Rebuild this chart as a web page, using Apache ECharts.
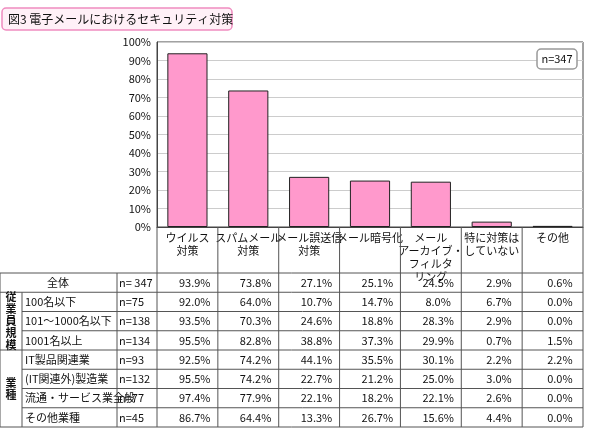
<!DOCTYPE html>
<html><head><meta charset="utf-8">
<script src="https://cdn.jsdelivr.net/npm/echarts@6/dist/echarts.min.js"></script>
<style>html,body{margin:0;padding:0;background:#fff}#c{width:590px;height:438px}</style>
</head><body><div id="c"></div>
<script>
const categories = ['ウイルス\n対策','スパムメール\n対策','メール誤送信\n対策','メール暗号化','メール\nアーカイブ・\nフィルタ\nリング','特に対策は\nしていない','その他'];
const overall = [93.9,73.8,27.1,25.1,24.5,2.9,0.6];
const yTicks = [0,10,20,30,40,50,60,70,80,90,100];
const rowLabels = ['全体','100名以下','101～1000名以下','1001名以上','IT製品関連業','(IT関連外)製造業','流通・サービス業全般','その他業種'];
const rowN = ['n= 347','n=75','n=138','n=134','n=93','n=132','n=77','n=45'];
const row0 = [93.9,73.8,27.1,25.1,24.5,2.9,0.6];
const row1 = [92.0,64.0,10.7,14.7,8.0,6.7,0.0];
const row2 = [93.5,70.3,24.6,18.8,28.3,2.9,0.0];
const row3 = [95.5,82.8,38.8,37.3,29.9,0.7,1.5];
const row4 = [92.5,74.2,44.1,35.5,30.1,2.2,2.2];
const row5 = [95.5,74.2,22.7,21.2,25.0,3.0,0.0];
const row6 = [97.4,77.9,22.1,18.2,22.1,2.6,0.0];
const row7 = [86.7,64.4,13.3,26.7,15.6,4.4,0.0];
const groups = [{name:'従\n業\n員\n規\n模', from:1, to:3},{name:'業\n種', from:4, to:7}];

const rows = [row0,row1,row2,row3,row4,row5,row6,row7];
const F = '"Noto Sans CJK JP", sans-serif';
const L = 157, R = 583, T = 42, B = 227, HB = 273, RH = 19.25;
const CW = (R - L) / categories.length;
const g = [];
const line = (x1,y1,x2,y2,c) => g.push({type:'line',shape:{x1,y1,x2,y2},style:{stroke:c||'#555',lineWidth:1},z:10});
const txt = (x,y,t,align) => g.push({type:'text',x,y,style:{text:t,font:'11px '+F,fill:'#111',textAlign:align||'center',textVerticalAlign:'middle'},z:11});
// horizontal lines
line(0,HB,R,HB);
for (let i=1;i<=rows.length;i++){
  const y = HB + i*RH;
  const fromGroup = groups.some(gr => i>gr.from && i<=gr.to);
  line(fromGroup?22:0, y, R, y);
}
// vertical lines
const tb = HB + rows.length*RH;
line(0,HB,0,tb); line(22,HB+RH,22,tb); line(117,HB,117,tb);
for (let k=0;k<=categories.length;k++) line(L+k*CW,B,L+k*CW,tb);
rows.forEach((r,i)=>{
  const y = HB + (i+0.5)*RH;
  if (i===0) txt(58,y,rowLabels[i]); else txt(25,y,rowLabels[i],'left');
  txt(119,y,rowN[i],'left');
  r.forEach((v,k)=>txt(L+(k+0.62)*CW,y,v.toFixed(1)+'%'));
});
groups.forEach(gr=>{
  g.push({type:'text',x:11,y:HB+((gr.from+gr.to+1)/2)*RH,style:{text:gr.name,font:'bold 11px '+F,fill:'#111',textAlign:'center',textVerticalAlign:'middle',lineHeight:12},z:11});
});
// title box
g.push({type:'rect',shape:{x:2,y:8,width:230,height:22,r:4},style:{fill:'#fff0f7',stroke:'#f08cc0',lineWidth:1.5},z:5});
g.push({type:'text',x:8,y:19,style:{text:'図3 電子メールにおけるセキュリティ対策',font:'12px '+F,fill:'#111',textVerticalAlign:'middle'},z:6});
// n box
g.push({type:'rect',shape:{x:537,y:49,width:40,height:20,r:4},style:{fill:'#fff',stroke:'#999',lineWidth:1.5},z:5});
g.push({type:'text',x:557,y:59,style:{text:'n=347',font:'11px '+F,fill:'#111',textAlign:'center',textVerticalAlign:'middle'},z:6});

const chart = echarts.init(document.getElementById('c'));
chart.setOption({
  animation:false,
  grid:{left:L,right:590-R,top:T,bottom:438-B,show:true,borderColor:'#444',borderWidth:1},
  xAxis:{type:'category',data:categories,axisTick:{show:false},axisLine:{lineStyle:{color:'#444'}},
    axisLabel:{interval:0,color:'#111',fontFamily:F,fontSize:11,lineHeight:13,verticalAlign:'top',margin:4}},
  yAxis:{type:'value',min:0,max:100,interval:10,axisLine:{show:true,lineStyle:{color:'#444'}},
    axisLabel:{formatter:v=>yTicks.includes(v)?v+'%':'',color:'#111',fontFamily:F,fontSize:11,margin:6},
    splitLine:{lineStyle:{color:'#ccc'}}},
  series:[{type:'bar',data:overall,barWidth:'66%',itemStyle:{color:'#ff99cc',borderColor:'#222',borderWidth:1}}],
  graphic:g
});
</script></body></html>
